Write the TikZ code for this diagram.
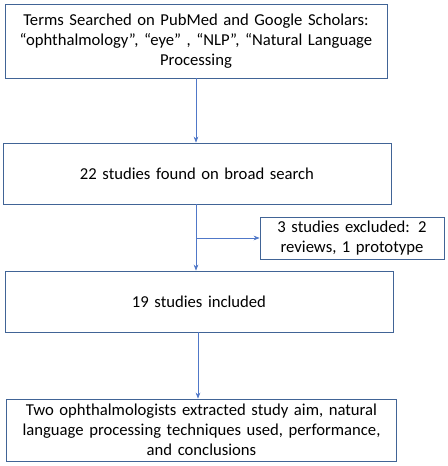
\documentclass[tikz,border=0pt]{standalone}
\usepackage{fontspec}
\setmainfont{Carlito}
\usepackage{tikz}
\usetikzlibrary{arrows.meta,positioning,calc}
\definecolor{boxline}{RGB}{65,100,150}
\definecolor{arrowline}{RGB}{80,120,200}
\tikzset{
  stagebox/.style={draw=boxline,line width=0.6pt,rectangle,inner sep=2pt,align=center,
    font=\fontsize{12.5}{15}\selectfont},
  flow/.style={draw=arrowline,line width=0.5pt,arrows={-Stealth[length=4.5pt,width=3.5pt]}}
}

\begin{document}
\begin{tikzpicture}[x=0.75pt,y=-0.75pt]
  \useasboundingbox (0,0) rectangle (447,466);
  \node[stagebox,minimum width=286.5pt,minimum height=55.5pt,text width=282pt] (search) at (196,41)
    {Terms Searched on PubMed and Google Scholars:\\ “ophthalmology”, “eye” , “NLP”, “Natural Language\\ Processing};
  \node[stagebox,minimum width=291pt,minimum height=45.75pt,text width=287pt] (found) at (197,173.5)
    {22 studies found on broad search};
  \node[stagebox,minimum width=138pt,minimum height=31.5pt,text width=134pt] (excl) at (352,238)
    {3 studies excluded: 2\\ reviews, 1 prototype};
  \node[stagebox,minimum width=291pt,minimum height=45.75pt,text width=287pt] (incl) at (199,301.5)
    {19 studies included};
  \node[stagebox,minimum width=291.75pt,minimum height=46.5pt,text width=289pt] (extract) at (201.5,430)
    {Two ophthalmologists extracted study aim, natural\\ language processing techniques used, performance,\\ and conclusions};

  \coordinate (branch) at (found.south -| search.south);
  \coordinate (down) at (198,0);
  \draw[flow] (search.south) -- (search.south |- found.north);
  \draw[flow] (branch) -- (branch |- incl.north);
  \draw[flow] (branch |- excl.west) -- (excl.west);
  \draw[flow] (incl.south -| down) -- (extract.north -| down);
\end{tikzpicture}
\end{document}
